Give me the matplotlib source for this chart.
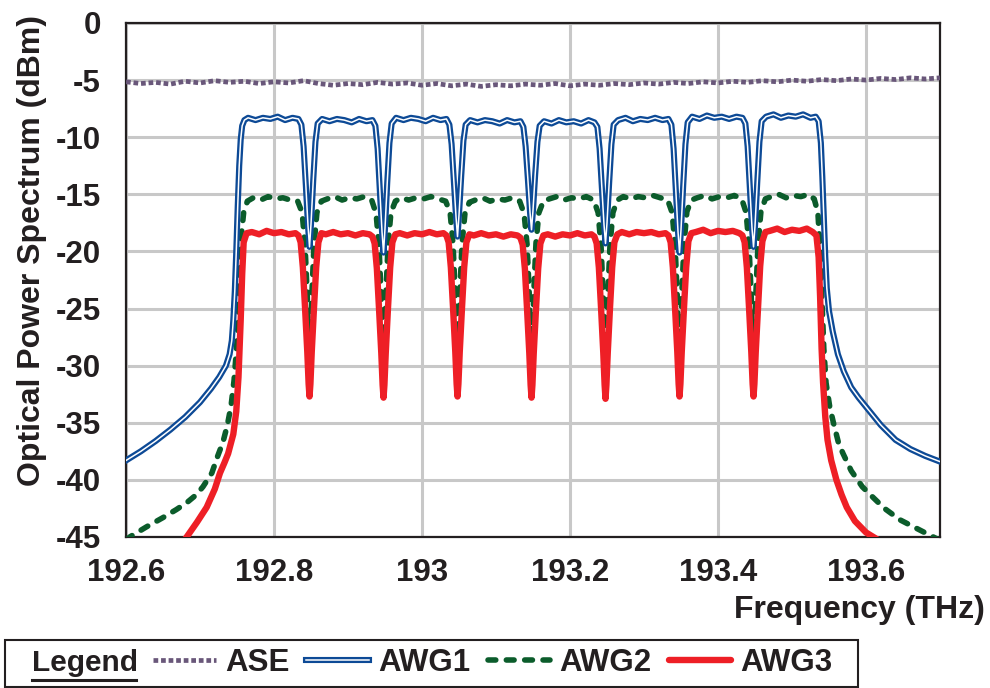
import numpy as np
import matplotlib
matplotlib.use("Agg")
import matplotlib.pyplot as plt
import matplotlib.patheffects as pe
from matplotlib.lines import Line2D
from matplotlib.patches import Rectangle

plt.rcParams['font.family'] = ['Liberation Sans', 'DejaVu Sans']
plt.rcParams['font.weight'] = 'bold'
plt.rcParams['axes.labelweight'] = 'bold'

INK = '#231f20'

# ---- data (frequency THz, power dBm) ----
ASE = [
    (192.60, -5.15), (192.62, -5.30), (192.64, -5.20), (192.66, -5.35), (192.68, -5.10),
    (192.70, -5.25), (192.72, -5.05), (192.74, -5.20), (192.76, -5.10), (192.78, -5.30),
    (192.80, -5.15), (192.82, -5.25), (192.84, -5.05), (192.86, -5.30), (192.88, -5.45),
    (192.90, -5.30), (192.92, -5.40), (192.94, -5.20), (192.96, -5.35), (192.98, -5.25),
    (193.00, -5.45), (193.02, -5.30), (193.04, -5.50), (193.06, -5.35), (193.08, -5.55),
    (193.10, -5.40), (193.12, -5.50), (193.14, -5.35), (193.16, -5.45), (193.18, -5.30),
    (193.20, -5.50), (193.22, -5.35), (193.24, -5.45), (193.26, -5.30), (193.28, -5.40),
    (193.30, -5.25), (193.32, -5.35), (193.34, -5.20), (193.36, -5.30), (193.38, -5.15),
    (193.40, -5.25), (193.42, -5.10), (193.44, -5.20), (193.46, -5.05), (193.48, -5.15),
    (193.50, -5.00), (193.52, -5.10), (193.54, -4.95), (193.56, -5.05), (193.58, -4.90),
    (193.60, -5.00), (193.62, -4.85), (193.64, -4.95), (193.66, -4.80), (193.68, -4.90),
    (193.70, -4.80),
]

AWG1 = [
    # left skirt
    (192.600, -38.3), (192.620, -37.5), (192.640, -36.6), (192.660, -35.6), (192.680, -34.5),
    (192.700, -33.2), (192.715, -32.0), (192.726, -31.0), (192.735, -30.0), (192.740, -29.0),
    (192.743, -27.8), (192.745, -26.0), (192.747, -23.5), (192.749, -20.0), (192.751, -16.0),
    (192.753, -12.5), (192.755, -10.2), (192.757, -9.0), (192.760, -8.5),
    # ch1
    (192.765, -8.3), (192.775, -8.5), (192.785, -8.3), (192.795, -8.4), (192.805, -8.2),
    (192.815, -8.5), (192.825, -8.3), (192.833, -8.4), (192.837, -8.9),
    (192.840, -10.8), (192.843, -14.2), (192.846, -17.8), (192.848, -19.6), (192.850, -17.6),
    (192.853, -13.8), (192.856, -10.4), (192.859, -8.8),
    # ch2
    (192.865, -8.4), (192.875, -8.6), (192.885, -8.4), (192.895, -8.5), (192.905, -8.7),
    (192.915, -8.4), (192.925, -8.6), (192.933, -8.5), (192.937, -9.0),
    (192.940, -11.0), (192.943, -14.6), (192.946, -18.3), (192.948, -20.1), (192.950, -18.0),
    (192.953, -14.0), (192.956, -10.5), (192.959, -8.8),
    # ch3
    (192.965, -8.3), (192.975, -8.5), (192.985, -8.3), (192.995, -8.4), (193.005, -8.6),
    (193.015, -8.3), (193.025, -8.5), (193.033, -8.4), (193.037, -8.9),
    (193.040, -10.6), (193.043, -13.8), (193.046, -17.0), (193.048, -18.7), (193.050, -16.8),
    (193.053, -13.4), (193.056, -10.3), (193.059, -8.9),
    # ch4
    (193.065, -8.5), (193.075, -8.7), (193.085, -8.5), (193.095, -8.6), (193.105, -8.8),
    (193.115, -8.5), (193.125, -8.7), (193.133, -8.6), (193.137, -9.1),
    (193.140, -10.8), (193.143, -13.6), (193.146, -16.6), (193.148, -18.1), (193.150, -16.4),
    (193.153, -13.2), (193.156, -10.4), (193.159, -9.0),
    # ch5
    (193.165, -8.6), (193.175, -8.8), (193.185, -8.5), (193.195, -8.7), (193.205, -8.6),
    (193.215, -8.8), (193.225, -8.5), (193.233, -8.7), (193.237, -9.1),
    (193.240, -11.0), (193.243, -14.3), (193.246, -17.7), (193.248, -19.3), (193.250, -17.5),
    (193.253, -13.9), (193.256, -10.6), (193.259, -8.9),
    # ch6
    (193.265, -8.5), (193.275, -8.3), (193.285, -8.6), (193.295, -8.4), (193.305, -8.5),
    (193.315, -8.3), (193.325, -8.5), (193.333, -8.4), (193.337, -8.9),
    (193.340, -11.0), (193.343, -14.6), (193.346, -18.3), (193.348, -20.1), (193.350, -18.1),
    (193.353, -14.2), (193.356, -10.6), (193.359, -8.7),
    # ch7
    (193.365, -8.2), (193.375, -8.4), (193.385, -8.1), (193.395, -8.3), (193.405, -8.2),
    (193.415, -8.4), (193.425, -8.2), (193.433, -8.3), (193.437, -8.8),
    (193.440, -10.8), (193.443, -14.4), (193.446, -18.0), (193.448, -19.6), (193.450, -17.8),
    (193.453, -14.0), (193.456, -10.4), (193.459, -8.6),
    # ch8
    (193.465, -8.2), (193.475, -8.0), (193.485, -8.3), (193.495, -8.1), (193.505, -8.2),
    (193.515, -8.0), (193.525, -8.3), (193.532, -8.2), (193.536, -8.6),
    # right skirt
    (193.539, -10.5), (193.541, -13.5), (193.543, -17.0), (193.545, -20.5), (193.547, -23.2),
    (193.550, -25.2), (193.555, -27.0), (193.562, -29.0), (193.570, -30.5), (193.580, -31.9),
    (193.590, -32.8), (193.605, -34.0), (193.620, -35.2), (193.640, -36.5), (193.660, -37.3),
    (193.680, -37.9), (193.700, -38.4),
]

AWG2 = [
    # left skirt
    (192.600, -45.3), (192.605, -45.0), (192.628, -44.1), (192.650, -43.3), (192.668, -42.6),
    (192.682, -42.0), (192.695, -41.3), (192.704, -40.6), (192.716, -39.4), (192.724, -37.9),
    (192.731, -36.7), (192.737, -35.2), (192.742, -33.5), (192.746, -31.3), (192.749, -28.8),
    (192.751, -26.9), (192.754, -22.0), (192.756, -18.5), (192.759, -16.6), (192.764, -15.6),
    # ch1
    (192.772, -15.3), (192.782, -15.5), (192.792, -15.2), (192.802, -15.4), (192.812, -15.3),
    (192.822, -15.5), (192.832, -15.6),
    (192.838, -16.6), (192.842, -19.5), (192.845, -24.0), (192.8465, -27.0), (192.848, -29.2),
    (192.8495, -27.0), (192.851, -24.0), (192.854, -19.5), (192.858, -16.6), (192.864, -15.6),
    # ch2
    (192.872, -15.4), (192.882, -15.2), (192.892, -15.5), (192.902, -15.3), (192.912, -15.4),
    (192.922, -15.2), (192.932, -15.5),
    (192.938, -16.7), (192.942, -19.7), (192.945, -24.2), (192.9465, -27.2), (192.948, -29.4),
    (192.9495, -27.2), (192.951, -24.1), (192.954, -19.6), (192.958, -16.6), (192.964, -15.6),
    # ch3
    (192.972, -15.3), (192.982, -15.5), (192.992, -15.3), (193.002, -15.4), (193.012, -15.2),
    (193.022, -15.4), (193.032, -15.6),
    (193.038, -16.6), (193.042, -19.4), (193.045, -23.9), (193.0465, -27.0), (193.048, -29.1),
    (193.0495, -26.9), (193.051, -23.8), (193.054, -19.4), (193.058, -16.7), (193.064, -15.7),
    # ch4
    (193.072, -15.5), (193.082, -15.3), (193.092, -15.6), (193.102, -15.4), (193.112, -15.5),
    (193.122, -15.3), (193.132, -15.6),
    (193.138, -16.7), (193.142, -19.4), (193.145, -23.8), (193.1465, -26.8), (193.148, -28.9),
    (193.1495, -26.8), (193.151, -23.7), (193.154, -19.3), (193.158, -16.6), (193.164, -15.6),
    # ch5
    (193.172, -15.4), (193.182, -15.2), (193.192, -15.5), (193.202, -15.3), (193.212, -15.4),
    (193.222, -15.2), (193.232, -15.5),
    (193.238, -16.6), (193.242, -19.6), (193.245, -24.1), (193.2465, -27.1), (193.248, -29.3),
    (193.2495, -27.1), (193.251, -24.0), (193.254, -19.5), (193.258, -16.6), (193.264, -15.5),
    # ch6
    (193.272, -15.2), (193.282, -15.4), (193.292, -15.2), (193.302, -15.3), (193.312, -15.1),
    (193.322, -15.3), (193.332, -15.5),
    (193.338, -16.6), (193.342, -19.5), (193.345, -24.0), (193.3465, -27.0), (193.348, -29.1),
    (193.3495, -27.0), (193.351, -23.9), (193.354, -19.4), (193.358, -16.5), (193.364, -15.5),
    # ch7
    (193.372, -15.3), (193.382, -15.1), (193.392, -15.4), (193.402, -15.2), (193.412, -15.3),
    (193.422, -15.1), (193.432, -15.4),
    (193.438, -16.6), (193.442, -19.6), (193.445, -24.1), (193.4465, -27.1), (193.448, -29.3),
    (193.4495, -27.1), (193.451, -24.0), (193.454, -19.5), (193.458, -16.5), (193.464, -15.4),
    # ch8
    (193.472, -15.2), (193.482, -15.0), (193.492, -15.3), (193.502, -15.1), (193.512, -15.2),
    (193.522, -15.0), (193.530, -15.4),
    # right skirt
    (193.535, -16.6), (193.538, -20.0), (193.540, -23.5), (193.543, -28.5), (193.546, -31.5),
    (193.551, -33.6), (193.556, -35.0), (193.563, -36.8), (193.569, -37.7), (193.580, -39.2),
    (193.595, -40.6), (193.609, -41.5), (193.625, -42.5), (193.646, -43.5), (193.670, -44.3),
    (193.691, -45.0), (193.700, -45.3),
]

AWG3 = [
    # left skirt
    (192.675, -45.6), (192.682, -45.0), (192.696, -43.7), (192.709, -42.4), (192.720, -40.8),
    (192.727, -39.4), (192.733, -38.5), (192.738, -37.7), (192.745, -36.0), (192.749, -34.0),
    (192.752, -31.0), (192.755, -26.0), (192.757, -22.0), (192.759, -19.2), (192.763, -18.4),
    # ch1
    (192.770, -18.3), (192.780, -18.5), (192.790, -18.2), (192.800, -18.4), (192.810, -18.3),
    (192.820, -18.5), (192.829, -18.4),
    (192.833, -18.6), (192.836, -19.2), (192.839, -21.4), (192.842, -25.0), (192.845, -28.8),
    (192.8468, -31.6), (192.848, -32.7), (192.8492, -31.6), (192.851, -28.8), (192.854, -25.0),
    (192.857, -21.4), (192.860, -19.2), (192.864, -18.4),
    # ch2
    (192.870, -18.5), (192.880, -18.3), (192.890, -18.5), (192.900, -18.4), (192.910, -18.6),
    (192.920, -18.4), (192.929, -18.5),
    (192.933, -18.7), (192.936, -19.3), (192.939, -21.5), (192.942, -25.1), (192.945, -28.9),
    (192.9468, -31.7), (192.948, -32.8), (192.9492, -31.7), (192.951, -28.9), (192.954, -25.0),
    (192.957, -21.4), (192.960, -19.2), (192.964, -18.5),
    # ch3
    (192.970, -18.4), (192.980, -18.6), (192.990, -18.4), (193.000, -18.5), (193.010, -18.3),
    (193.020, -18.5), (193.029, -18.4),
    (193.033, -18.6), (193.036, -19.2), (193.039, -21.4), (193.042, -25.0), (193.045, -28.8),
    (193.0468, -31.6), (193.048, -32.7), (193.0492, -31.6), (193.051, -28.8), (193.054, -25.0),
    (193.057, -21.4), (193.060, -19.2), (193.064, -18.5),
    # ch4
    (193.070, -18.6), (193.080, -18.4), (193.090, -18.6), (193.100, -18.5), (193.110, -18.7),
    (193.120, -18.5), (193.129, -18.6),
    (193.133, -18.8), (193.136, -19.4), (193.139, -21.5), (193.142, -25.1), (193.145, -28.9),
    (193.1468, -31.7), (193.148, -32.8), (193.1492, -31.7), (193.151, -28.9), (193.154, -25.1),
    (193.157, -21.5), (193.160, -19.3), (193.164, -18.6),
    # ch5
    (193.170, -18.5), (193.180, -18.7), (193.190, -18.5), (193.200, -18.6), (193.210, -18.4),
    (193.220, -18.6), (193.229, -18.5),
    (193.233, -18.7), (193.236, -19.3), (193.239, -21.4), (193.242, -25.0), (193.245, -28.9),
    (193.2468, -31.7), (193.248, -32.9), (193.2492, -31.7), (193.251, -28.9), (193.254, -25.0),
    (193.257, -21.4), (193.260, -19.2), (193.264, -18.5),
    # ch6
    (193.270, -18.3), (193.280, -18.5), (193.290, -18.3), (193.300, -18.4), (193.310, -18.3),
    (193.320, -18.5), (193.329, -18.4),
    (193.333, -18.6), (193.336, -19.2), (193.339, -21.4), (193.342, -25.0), (193.345, -28.8),
    (193.3468, -31.6), (193.348, -32.7), (193.3492, -31.6), (193.351, -28.8), (193.354, -25.0),
    (193.357, -21.4), (193.360, -19.1), (193.364, -18.4),
    # ch7
    (193.370, -18.3), (193.380, -18.1), (193.390, -18.4), (193.400, -18.2), (193.410, -18.3),
    (193.420, -18.2), (193.429, -18.4),
    (193.433, -18.6), (193.436, -19.2), (193.439, -21.4), (193.442, -25.0), (193.445, -28.8),
    (193.4468, -31.6), (193.448, -32.7), (193.4492, -31.6), (193.451, -28.8), (193.454, -25.0),
    (193.457, -21.3), (193.460, -19.1), (193.464, -18.3),
    # ch8
    (193.470, -18.2), (193.480, -18.0), (193.490, -18.3), (193.500, -18.1), (193.510, -18.2),
    (193.520, -18.0), (193.528, -18.3),
    # right skirt
    (193.533, -18.6), (193.536, -20.5), (193.538, -24.0), (193.540, -28.5), (193.542, -31.5),
    (193.545, -34.5), (193.548, -36.5), (193.553, -38.3), (193.560, -40.0), (193.567, -41.3),
    (193.574, -42.4), (193.585, -43.6), (193.600, -44.6), (193.615, -45.2), (193.625, -45.8),
]

X_TICKS = [192.6, 192.8, 193.0, 193.2, 193.4, 193.6]
X_TICK_LABELS = ['192.6', '192.8', '193', '193.2', '193.4', '193.6']
Y_TICKS = [0, -5, -10, -15, -20, -25, -30, -35, -40, -45]


def xy(pts):
    a = np.array(pts, dtype=float)
    return a[:, 0], a[:, 1]


fig = plt.figure(figsize=(9.9, 6.88), dpi=100)
ax = fig.add_axes([126 / 990, 1 - 537 / 688, 814 / 990, 514 / 688])

l_ase, = ax.plot(*xy(ASE), color='#69577a', lw=3.4, ls=(0, (1, 0.6)),
                 label='ASE', zorder=3)
l_awg2, = ax.plot(*xy(AWG2), color='#0b5c2b', lw=4.0, dashes=(1.4, 1.9),
                  dash_capstyle='round', solid_joinstyle='round',
                  label='AWG2', zorder=4)
l_awg3, = ax.plot(*xy(AWG3), color='#ee1f26', lw=4.6, solid_joinstyle='round',
                  solid_capstyle='round', label='AWG3', zorder=5)
l_awg1, = ax.plot(*xy(AWG1), color='white', lw=1.1, solid_joinstyle='round',
                  label='AWG1', zorder=6,
                  path_effects=[pe.Stroke(linewidth=4.4, foreground='#0d4a96'),
                                pe.Normal()])

ax.set_xlim(192.6, 193.7)
ax.set_ylim(-45, 0)
ax.set_xticks(X_TICKS)
ax.set_xticklabels(X_TICK_LABELS)
ax.set_yticks(Y_TICKS)
ax.set_yticklabels([str(v) for v in Y_TICKS])
ax.tick_params(axis='both', length=0, labelsize=22.5, labelcolor=INK)
ax.tick_params(axis='x', pad=15)
ax.tick_params(axis='y', pad=18)
ax.grid(True, color='#c8c8c8', lw=2.2)
ax.set_axisbelow(True)
for s in ax.spines.values():
    s.set_linewidth(1.6)
    s.set_color(INK)

ax.set_ylabel('Optical Power Spectrum (dBm)', fontsize=23, color=INK)
ax.yaxis.set_label_coords(-0.097, 0.558)
fig.text(985 / 990, 1 - 610 / 688, 'Frequency (THz)', ha='right', va='center',
         fontsize=23, color=INK)

# legend box under the plot
fig.patches.append(Rectangle((5 / 990, 1 - 687 / 688), 853 / 990, 47 / 688,
                             transform=fig.transFigure, fill=False,
                             ec=INK, lw=1.5))
fig.text(32 / 990, 1 - 663 / 688, 'Legend', ha='left', va='center',
         fontsize=21.5, color=INK)
fig.add_artist(Line2D([32 / 990, 136 / 990], [1 - 680 / 688, 1 - 680 / 688],
                      transform=fig.transFigure, color=INK, lw=2.2))
fig.legend([l_ase, l_awg1, l_awg2, l_awg3], ['ASE', 'AWG1', 'AWG2', 'AWG3'],
           loc='center left', bbox_to_anchor=(153 / 990, 1 - 663 / 688),
           ncol=4, frameon=False, fontsize=22.5, handlelength=2.0,
           handletextpad=0.3, columnspacing=0.55, borderpad=0, borderaxespad=0,
           labelcolor=INK)

fig.savefig('out.png', dpi=100)
